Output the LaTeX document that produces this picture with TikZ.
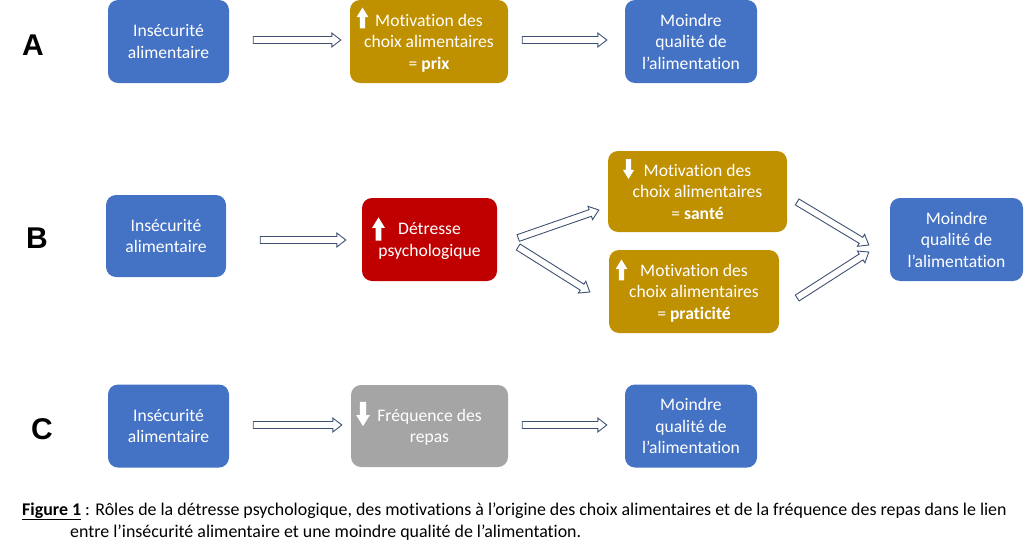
\documentclass[tikz,border=0pt]{standalone}
\usepackage{fontspec}
\setmainfont[Ligatures=NoCommon]{Carlito}
\newfontfamily\letterfont{Liberation Sans}
\usetikzlibrary{calc}
\definecolor{cblue}{HTML}{4472C4}
\definecolor{cgold}{HTML}{BF9000}
\definecolor{cred}{HTML}{C00000}
\definecolor{cgray}{HTML}{A5A5A5}
\definecolor{arrowc}{HTML}{3F5173}
\begin{document}
\begin{tikzpicture}[x=1pt,y=-1pt,
  box/.style={rounded corners=10pt, text=white, align=center, inner sep=0pt,
    text depth=0pt, font=\fontsize{17.6}{21.5}\selectfont},
  bluebox/.style={box, fill=cblue},
  goldbox/.style={box, fill=cgold},
  redbox/.style={box, fill=cred},
  graybox/.style={box, fill=cgray},
  rowlabel/.style={font=\letterfont\fontsize{30}{30}\selectfont\bfseries, inner sep=0pt},
  captext/.style={font=\fontsize{17.9}{22}\selectfont, inner sep=0pt, anchor=base west},
  blockarrow/.style={draw=arrowc, fill=white, line width=0.9pt, to path={
    let \p1=(\tikztostart), \p2=(\tikztotarget),
        \n1={atan2(\y2-\y1,\x2-\x1)}, \n2={veclen(\x2-\x1,\y2-\y1)-9} in
    ($(\p1)+(\n1+90:3.5pt)$) -- ($(\p1)+(\n1:\n2)+(\n1+90:3.5pt)$)
    -- ($(\p1)+(\n1:\n2)+(\n1+90:7pt)$) -- (\p2)
    -- ($(\p1)+(\n1:\n2)+(\n1-90:7pt)$) -- ($(\p1)+(\n1:\n2)+(\n1-90:3.5pt)$)
    -- ($(\p1)+(\n1-90:3.5pt)$) -- cycle}},
  pics/uparr/.style={code={\fill[white] (-2.8,11) -- (-2.8,-1) -- (-6.2,-1) -- (0,-11)
    -- (6.2,-1) -- (2.8,-1) -- (2.8,11) -- cycle;}}
]
\useasboundingbox (0,0) rectangle (1024,554);

% Row labels
\node[rowlabel] (lA) at (33,45) {A};
\node[rowlabel] (lB) at (37,238) {B};
\node[rowlabel] (lC) at (42,429) {C};

% Row A
\node[bluebox, minimum width=121pt, minimum height=83pt] (iA) at (168.5,41.5) {Insécurité\\alimentaire};
\node[goldbox, minimum width=158pt, minimum height=83pt] (mA) at (429,41.5) {Motivation des\\choix alimentaires\\= \textbf{prix}};
\node[bluebox, minimum width=132pt, minimum height=83pt] (qA) at (691,41.5) {Moindre\\qualité de\\l’alimentation};

% Row B
\node[bluebox, minimum width=120pt, minimum height=82pt] (iB) at (166,236) {Insécurité\\alimentaire};
\node[redbox, minimum width=135pt, minimum height=83pt] (dB) at (429.5,239.5) {Détresse\\psychologique};
\node[goldbox, minimum width=179pt, minimum height=81pt] (sB) at (697.5,191.5) {Motivation des\\choix alimentaires\\= \textbf{santé}};
\node[goldbox, minimum width=170pt, minimum height=83pt] (pB) at (694,291.5) {Motivation des\\choix alimentaires\\= \textbf{praticité}};
\node[bluebox, minimum width=133pt, minimum height=83pt] (qB) at (956.5,239.5) {Moindre\\qualité de\\l’alimentation};

% Row C
\node[bluebox, minimum width=121pt, minimum height=83pt] (iC) at (168.5,426) {Insécurité\\alimentaire};
\node[graybox, minimum width=157pt, minimum height=82pt] (fC) at (429.5,426) {Fréquence des\\repas};
\node[bluebox, minimum width=132pt, minimum height=83pt] (qC) at (691,426) {Moindre\\qualité de\\l’alimentation};

% Up/down icons
\pic[scale=0.95] at (362.5,18) {uparr};
\pic[scale=1.05] at (378.5,229) {uparr};
\pic[scale=0.9, rotate=180] at (628.5,169) {uparr};
\pic[scale=0.95] at (621.5,270) {uparr};
\pic[scale=1.1, rotate=180] at (363,414) {uparr};

% Connectors
\draw[blockarrow] ([shift={(24,-1.5)}]iA.east) to ([shift={(-9,-1.5)}]mA.west);
\draw[blockarrow] ([shift={(14,-1.5)}]mA.east) to ([shift={(-18,-1.5)}]qA.west);
\draw[blockarrow] ([shift={(34,4)}]iB.east) to ([shift={(-16,0.5)}]dB.west);
\draw[blockarrow] ([shift={(21,-1.5)}]dB.east) to ([shift={(-9,18.5)}]sB.west);
\draw[blockarrow] ([shift={(21,7.5)}]dB.east) to ([shift={(-19,0.5)}]pB.west);
\draw[blockarrow] ([shift={(10,10.5)}]sB.east) to ([shift={(-21,5.5)}]qB.west);
\draw[blockarrow] ([shift={(18,6.5)}]pB.east) to ([shift={(-21,12.5)}]qB.west);
\draw[blockarrow] ([shift={(24,-1)}]iC.east) to ([shift={(-9,-1)}]fC.west);
\draw[blockarrow] ([shift={(14,-1)}]fC.east) to ([shift={(-18,-1)}]qC.west);

% Caption
\node[captext] (cap1) at (22,515) {\textbf{\underline{Figure 1}} : Rôles de la détresse psychologique, des motivations à l’origine des choix alimentaires et de la fréquence des repas dans le lien};
\node[captext] (cap2) at (70,537) {entre l’insécurité alimentaire et une moindre qualité de l’alimentation.};
\end{tikzpicture}
\end{document}
